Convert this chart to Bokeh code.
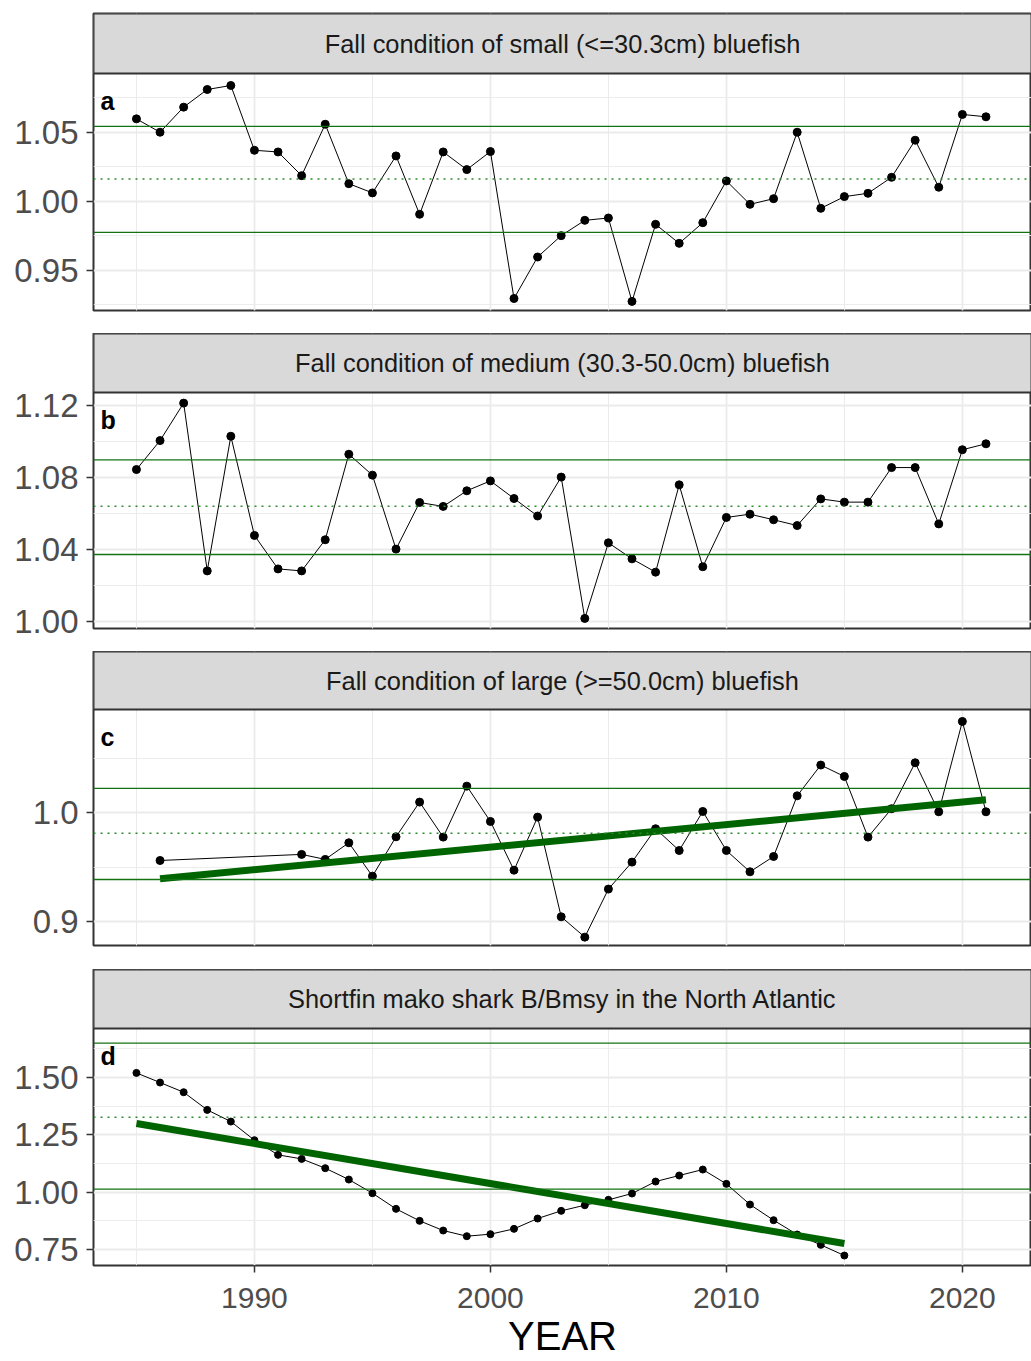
from bokeh.plotting import figure
from bokeh.models import Range1d, FixedTicker, Grid, Label, PrintfTickFormatter, Span, BoxAnnotation
from bokeh.layouts import column
from bokeh.embed import file_html
from bokeh.resources import INLINE

# ---------------- data ----------------
years_ab = list(range(1985, 2022))
small_cond = [1.0598, 1.0501, 1.0683, 1.0811, 1.0840, 1.0370, 1.0358, 1.0186, 1.0559, 1.0128,
              1.0061, 1.0329, 0.9906, 1.0358, 1.0230, 1.0361, 0.9295, 0.9596, 0.9751, 0.9862,
              0.9879, 0.9274, 0.9833, 0.9695, 0.9845, 1.0148, 0.9978, 1.0019, 1.0501, 0.9949,
              1.0034, 1.0058, 1.0174, 1.0443, 1.0102, 1.0630, 1.0613]
small_lines = [0.9775, 1.0162, 1.0543]

medium_cond = [1.0846, 1.1007, 1.1215, 1.0283, 1.1031, 1.0480, 1.0294, 1.0283, 1.0456, 1.0931,
               1.0815, 1.0404, 1.0663, 1.0641, 1.0728, 1.0783, 1.0685, 1.0588, 1.0804, 1.0019,
               1.0439, 1.0350, 1.0276, 1.0761, 1.0306, 1.0580, 1.0598, 1.0567, 1.0535, 1.0683,
               1.0665, 1.0665, 1.0857, 1.0857, 1.0544, 1.0956, 1.0989]
medium_lines = [1.0374, 1.0642, 1.0900]

years_c = [1986] + list(range(1992, 2022))
large_cond = [0.9561, 0.9617, 0.9571, 0.9724, 0.9417, 0.9779, 1.0098, 0.9776, 1.0245, 0.9920,
              0.9472, 0.9960, 0.9043, 0.8856, 0.9298, 0.9546, 0.9853, 0.9653, 1.0012, 0.9653,
              0.9457, 0.9598, 1.0156, 1.0439, 1.0334, 0.9776, 1.0037, 1.0460, 1.0009, 1.0840,
              1.0009]
large_lines = [0.9386, 0.9812, 1.0224]
large_trend_years = [1986, 2021]
large_trend = [0.9393, 1.0120]

years_d = list(range(1985, 2016))
mako_bbmsy = [1.5203, 1.4782, 1.4360, 1.3590, 1.3081, 1.2267, 1.1628, 1.1453, 1.1047, 1.0552,
              0.9956, 0.9273, 0.8750, 0.8328, 0.8081, 0.8169, 0.8401, 0.8852, 0.9186, 0.9433,
              0.9666, 0.9942, 1.0465, 1.0727, 1.0988, 1.0363, 0.9462, 0.8779, 0.8154, 0.7703,
              0.7238]
mako_lines = [1.0131, 1.3271, 1.6498]
mako_trend_years = [1985, 2015]
mako_trend = [1.2994, 0.7762]

strip_titles = ["Fall condition of small (<=30.3cm) bluefish",
                "Fall condition of medium (30.3-50.0cm) bluefish",
                "Fall condition of large (>=50.0cm) bluefish",
                "Shortfin mako shark B/Bmsy in the North Atlantic"]
panel_letters = ["a", "b", "c", "d"]
x_title = "YEAR"

x_major = [1990, 2000, 2010, 2020]
x_minor = [1985, 1995, 2005, 2015]
x_tick_labels = {1990: "1990", 2000: "2000", 2010: "2010", 2020: "2020"}

X0, X1 = 1983.18, 2022.93

FONT = "Liberation Sans"
GRID = "#EBEBEB"
BORDER = "#333333"
W = 1031
LEFT = 93


def panel(yr, major, minor, fmt, letter, title, strip_h, panel_h, top, bottom, xaxis=False):
    y0, y1 = yr
    ytop = y1 + (y1 - y0) * strip_h / panel_h
    p = figure(width=W, height=top + strip_h + panel_h + bottom,
               x_range=Range1d(X0, X1), y_range=Range1d(y0, ytop),
               x_axis_location="below" if xaxis else None, toolbar_location=None,
               output_backend="svg", min_border_left=LEFT, min_border_right=0,
               min_border_top=top, min_border_bottom=bottom,
               background_fill_color="white", border_fill_color="white")
    p.outline_line_color = BORDER
    p.outline_line_width = 2
    ya = p.yaxis[0]
    ya.ticker = FixedTicker(ticks=major, minor_ticks=minor)
    ya.formatter = PrintfTickFormatter(format=fmt)
    ya.axis_line_color = None
    ya.major_tick_in = 0
    ya.major_tick_out = 7
    ya.major_tick_line_color = BORDER
    ya.major_tick_line_width = 1.5
    ya.minor_tick_line_color = None
    ya.major_label_text_font = FONT
    ya.major_label_text_font_size = "33px"
    ya.major_label_text_color = "#4D4D4D"
    ya.major_label_standoff = 8
    p.ygrid.grid_line_color = GRID
    p.ygrid.grid_line_width = 1.8
    p.ygrid.minor_grid_line_color = GRID
    p.ygrid.minor_grid_line_width = 0.9
    xt = FixedTicker(ticks=x_major, minor_ticks=x_minor)
    if xaxis:
        xa = p.xaxis[0]
        xa.ticker = xt
        xa.major_label_overrides = x_tick_labels
        xa.axis_line_color = None
        xa.major_tick_in = 0
        xa.major_tick_out = 7
        xa.major_tick_line_color = BORDER
        xa.major_tick_line_width = 1.5
        xa.minor_tick_line_color = None
        xa.major_label_text_font = FONT
        xa.major_label_text_font_size = "30px"
        xa.major_label_text_color = "#4D4D4D"
        xa.major_label_standoff = 15
        xa.axis_label = x_title
        xa.axis_label_text_font = FONT
        xa.axis_label_text_font_size = "40px"
        xa.axis_label_text_font_style = "normal"
        xa.axis_label_text_color = "black"
        xa.axis_label_standoff = 3
        g = p.xgrid[0]
    else:
        g = Grid(dimension=0, ticker=xt)
        p.add_layout(g)
    g.grid_line_color = GRID
    g.grid_line_width = 1.8
    g.minor_grid_line_color = GRID
    g.minor_grid_line_width = 0.9
    # facet strip
    p.add_layout(BoxAnnotation(bottom=y1, top=ytop, fill_color="#D9D9D9", fill_alpha=1,
                               line_color=BORDER, line_width=2, line_alpha=1))
    p.add_layout(Label(x=(X0 + X1) / 2, y=(y1 + ytop) / 2, text=title, text_align="center",
                       text_baseline="middle", text_font_size="25.4px", text_color="#1A1A1A",
                       text_font=FONT))
    p.add_layout(Label(x=X0 + 0.3, y=y1 - 0.115 * (y1 - y0), text=letter,
                       text_align="left", text_baseline="middle", text_font=FONT,
                       text_font_size="25px", text_font_style="bold", text_color="black"))
    return p


def hlines(p, vals):
    lo, mid, hi = vals
    for v in (lo, hi):
        p.add_layout(Span(location=v, dimension="width", line_color="#137313",
                          line_width=1.3, level="glyph"))
    p.add_layout(Span(location=mid, dimension="width", line_color="#2E8B2E",
                      line_width=1.6, line_dash="2 5", level="glyph"))


pa = panel((0.9208, 1.0927), [0.95, 1.00, 1.05], [0.925, 0.975, 1.025, 1.075],
           "%.2f", panel_letters[0], strip_titles[0], 60, 237, 13, 23)
hlines(pa, small_lines)
pa.line(years_ab, small_cond, line_color="black", line_width=1)
pa.scatter(years_ab, small_cond, size=8, color="black")

pb = panel((0.9963, 1.1274), [1.00, 1.04, 1.08, 1.12], [1.02, 1.06, 1.10],
           "%.2f", panel_letters[1], strip_titles[1], 59, 236, 0, 23)
hlines(pb, medium_lines)
pb.line(years_ab, medium_cond, line_color="black", line_width=1)
pb.scatter(years_ab, medium_cond, size=8, color="black")

pc = panel((0.8779, 1.0950), [0.9, 1.0], [0.95, 1.05], "%.1f", panel_letters[2],
           strip_titles[2], 58, 236, 0, 24)
hlines(pc, large_lines)
pc.line(years_c, large_cond, line_color="black", line_width=1)
pc.scatter(years_c, large_cond, size=8, color="black")
pc.line(large_trend_years, large_trend, line_color="#006400", line_width=7)

pd_ = panel((0.6803, 1.7139), [0.75, 1.00, 1.25, 1.50], [0.875, 1.125, 1.375, 1.625],
            "%.2f", panel_letters[3], strip_titles[3], 59, 237, 0, 96, xaxis=True)
hlines(pd_, mako_lines)
pd_.line(years_d, mako_bbmsy, line_color="black", line_width=1)
pd_.scatter(years_d, mako_bbmsy, size=7, color="black")
pd_.line(mako_trend_years, mako_trend, line_color="#006400", line_width=7)

layout = column(pa, pb, pc, pd_, spacing=0)

open("out.html", "w").write(file_html(layout, INLINE))
